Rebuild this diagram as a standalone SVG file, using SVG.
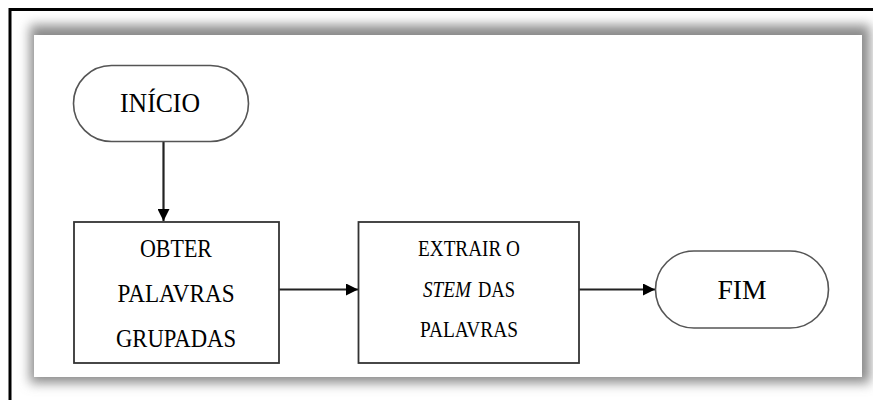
<svg xmlns="http://www.w3.org/2000/svg" width="873" height="400" viewBox="0 0 873 400">
  <defs>
    <filter id="panelShadow" x="-10%" y="-20%" width="120%" height="140%">
      <feGaussianBlur stdDeviation="6"/>
    </filter>
    <marker id="arrow" viewBox="0 0 12 12" refX="12" refY="6" markerWidth="12" markerHeight="12" markerUnits="userSpaceOnUse" orient="auto">
      <path d="M0,0 L12,6 L0,12 Z" fill="#000"/>
    </marker>
  </defs>
  <style>
    .frame { stroke: #000; stroke-width: 3; fill: none; }
    .term { fill: #fff; stroke: #555; stroke-width: 1.6; }
    .proc { fill: #fff; stroke: #333; stroke-width: 1.8; }
    .label { font-family: "Liberation Serif", "Times New Roman", serif; fill: #000; text-anchor: middle; }
    .edge { stroke: #222; stroke-width: 2.2; fill: none; marker-end: url(#arrow); }
  </style>

  <!-- page background and outer frame lines -->
  <rect width="873" height="400" fill="#fff"/>
  <path class="frame" d="M10,400 V9.5 H873"/>

  <!-- drawing panel with soft drop shadow -->
  <rect x="30" y="25" width="840" height="358" fill="#8a8a8a" filter="url(#panelShadow)"/>
  <rect x="34" y="35" width="828" height="342" fill="#fff"/>

  <!-- connectors -->
  <g id="connectors">
    <line class="edge" x1="163.5" y1="142" x2="163.5" y2="221"/>
    <line class="edge" x1="279" y1="289.5" x2="358" y2="289.5"/>
    <line class="edge" x1="579" y1="289.5" x2="655" y2="289.5"/>
  </g>

  <g id="inicio">
    <rect class="term" x="73.5" y="65.5" width="175" height="76" rx="38" ry="38"/>
    <text class="label" x="160" y="112" font-size="28" textLength="80" lengthAdjust="spacingAndGlyphs">INÍCIO</text>
  </g>

  <g id="obter">
    <rect class="proc" x="74" y="222" width="205" height="141"/>
    <text class="label" x="176" y="256.5" font-size="25" textLength="72" lengthAdjust="spacingAndGlyphs">OBTER</text>
    <text class="label" x="176" y="301.5" font-size="25" textLength="117" lengthAdjust="spacingAndGlyphs">PALAVRAS</text>
    <text class="label" x="176" y="346.5" font-size="25" textLength="120" lengthAdjust="spacingAndGlyphs">GRUPADAS</text>
  </g>

  <g id="extrair">
    <rect class="proc" x="358.5" y="222" width="220.5" height="141"/>
    <text class="label" x="469" y="255.5" font-size="23" textLength="102" lengthAdjust="spacingAndGlyphs">EXTRAIR O</text>
    <text class="label" x="447" y="297" font-size="23" font-style="italic" textLength="48" lengthAdjust="spacingAndGlyphs">STEM</text>
    <text class="label" x="496.5" y="297" font-size="23" textLength="37" lengthAdjust="spacingAndGlyphs">DAS</text>
    <text class="label" x="469" y="336.5" font-size="23" textLength="98" lengthAdjust="spacingAndGlyphs">PALAVRAS</text>
  </g>

  <g id="fim">
    <rect class="term" x="655.5" y="251" width="173" height="77" rx="38.5" ry="38.5"/>
    <text class="label" x="742" y="298.5" font-size="28" textLength="49" lengthAdjust="spacingAndGlyphs">FIM</text>
  </g>
</svg>
